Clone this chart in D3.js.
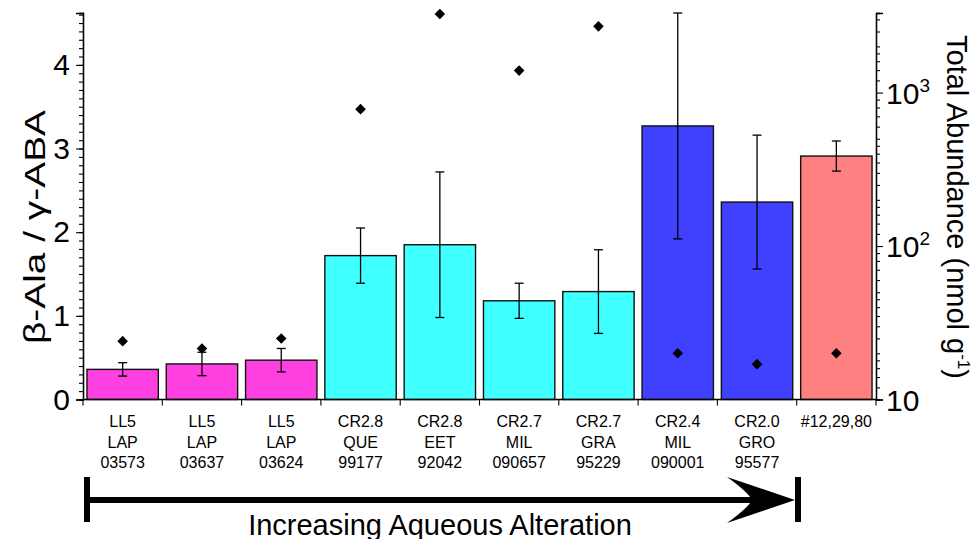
<!DOCTYPE html>
<html>
<head>
<meta charset="utf-8">
<script src="https://cdn.jsdelivr.net/npm/d3@7"></script>
<style>
  html, body { margin: 0; padding: 0; background: #fff; }
  svg { display: block; font-family: "Liberation Sans", Arial, sans-serif; }
</style>
</head>
<body>
<svg id="chart" width="972" height="539"></svg>
<script>
// Meteorite samples, each label split over three lines
const sampleClass = ["LL5", "LL5", "LL5", "CR2.8", "CR2.8", "CR2.7", "CR2.7", "CR2.4", "CR2.0", "#12,29,80"];
const sampleSite  = ["LAP", "LAP", "LAP", "QUE", "EET", "MIL", "GRA", "MIL", "GRO", ""];
const sampleId    = ["03573", "03637", "03624", "99177", "92042", "090657", "95229", "090001", "95577", ""];
const groups      = ["LL", "LL", "LL", "CR28", "CR28", "CR27", "CR27", "CR", "CR", "ref"];

// beta-alanine / gamma-ABA ratio (bars) with uncertainty
const ratio    = [0.36, 0.425, 0.47, 1.72, 1.85, 1.18, 1.29, 3.27, 2.36, 2.91];
const ratioErr = [0.08, 0.14, 0.14, 0.33, 0.87, 0.21, 0.50, 1.35, 0.80, 0.18];

// Total amino acid abundance, nmol/g (diamonds, log axis)
const abundance = [24, 21.5, 25, 780, 3250, 1390, 2700, 20, 17, 20];

const leftTicks = [0, 1, 2, 3, 4];
const rightTicks = [10, 100, 1000];

const colorOf = {LL: "#ff40e0", CR28: "#40ffff", CR27: "#40ffff", CR: "#4040ff", ref: "#ff8080"};

const svg = d3.select("#chart");
const X0 = 83, X1 = 876, Y0 = 399.5, Y1 = 13;

const keys = d3.range(sampleClass.length);
const x = d3.scaleBand().domain(keys).range([X0, X1]).paddingInner(0.1).paddingOuter(0.05);
const yL = d3.scaleLinear().domain([0, 4.62]).range([Y0, Y1]);
const yR = d3.scaleLog().domain([10, 3300]).range([Y0, Y1]);

// Bars
svg.append("g").selectAll("rect").data(keys).join("rect")
  .attr("x", i => x(i))
  .attr("y", i => yL(ratio[i]))
  .attr("width", x.bandwidth())
  .attr("height", i => Y0 - yL(ratio[i]))
  .attr("fill", i => colorOf[groups[i]])
  .attr("stroke", "#111")
  .attr("stroke-width", 1.4);

// Error bars
const eb = svg.append("g").attr("stroke", "#000").attr("stroke-width", 1.3).attr("fill", "none");
keys.forEach(i => {
  const cx = x(i) + x.bandwidth() / 2;
  const lo = yL(ratio[i] - ratioErr[i]), hi = yL(ratio[i] + ratioErr[i]);
  eb.append("line").attr("x1", cx).attr("x2", cx).attr("y1", lo).attr("y2", hi);
  eb.append("line").attr("x1", cx - 4.5).attr("x2", cx + 4.5).attr("y1", lo).attr("y2", lo);
  eb.append("line").attr("x1", cx - 4.5).attr("x2", cx + 4.5).attr("y1", hi).attr("y2", hi);
});

// Abundance diamonds
svg.append("g").selectAll("path").data(keys).join("path")
  .attr("d", d3.symbol(d3.symbolSquare, 56))
  .attr("transform", i => `translate(${x(i) + x.bandwidth() / 2},${yR(abundance[i])}) rotate(45)`)
  .attr("fill", "#000");

// Left axis
const axL = svg.append("g").attr("transform", `translate(${X0},0)`);
axL.call(d3.axisLeft(yL).tickValues(d3.range(0, 4.61, 0.1)).tickSize(4).tickFormat(""));
axL.call(g => g.append("g").call(d3.axisLeft(yL).tickValues(leftTicks).tickSize(7).tickPadding(6).tickFormat(d3.format("d"))));
axL.selectAll("path.domain").attr("stroke", "#000").attr("stroke-width", 1.3);
axL.selectAll("line").attr("stroke", "#000").attr("stroke-width", 1.1);
axL.selectAll("text").attr("font-size", 30).attr("fill", "#000").attr("font-family", "Liberation Sans, Arial, sans-serif");

// Right axis (log)
const minorR = [];
[10, 100, 1000].forEach(d => [1.2, 1.4, 1.6, 1.8, 2, 2.5, 3, 3.5, 4, 4.5, 5, 6, 7, 8, 9].forEach(m => {
  if (m * d <= 3300) minorR.push(m * d);
}));
const axR = svg.append("g").attr("transform", `translate(${X1},0)`);
axR.call(d3.axisRight(yR).tickValues(minorR).tickSize(4).tickFormat(""));
axR.call(g => g.append("g").call(d3.axisRight(yR).tickValues(rightTicks).tickSize(7).tickFormat("")));
axR.selectAll("path.domain").attr("stroke", "#000").attr("stroke-width", 1.3);
axR.selectAll("line").attr("stroke", "#000").attr("stroke-width", 1.1);
const supDigit = {2: "2", 3: "3"};
rightTicks.forEach(v => {
  const e = Math.round(Math.log10(v));
  const t = svg.append("text").attr("x", X1 + 10).attr("y", yR(v) + 11)
    .attr("font-size", 30).attr("fill", "#000");
  t.append("tspan").text("10");
  if (e > 1) t.append("tspan").attr("dy", -12).attr("font-size", 19).text(supDigit[e]);
});

// X axis with ticks at category boundaries
svg.append("line").attr("x1", X0).attr("x2", X1).attr("y1", Y0).attr("y2", Y0)
  .attr("stroke", "#000").attr("stroke-width", 1.3);
const step = x.step();
const bounds = d3.range(keys.length + 1).map(k => x(0) - x.paddingInner() * step / 2 + k * step);
svg.append("g").selectAll("line").data(bounds).join("line")
  .attr("x1", d => d).attr("x2", d => d).attr("y1", Y0).attr("y2", Y0 + 6)
  .attr("stroke", "#000").attr("stroke-width", 1.1);

// Category labels
const lab = svg.append("g").attr("font-size", 16).attr("fill", "#000").attr("text-anchor", "middle");
keys.forEach(i => {
  const cx = x(i) + x.bandwidth() / 2;
  [sampleClass[i], sampleSite[i], sampleId[i]].forEach((s, k) => {
    if (s) lab.append("text").attr("x", cx).attr("y", 427 + k * 20.5).text(s);
  });
});

// Axis titles
svg.append("text").attr("transform", "translate(45,227) rotate(-90)")
  .attr("text-anchor", "middle").attr("font-size", 29).attr("fill", "#000")
  .attr("textLength", 234).attr("lengthAdjust", "spacingAndGlyphs")
  .text("β-Ala / γ-ABA");
const rt = svg.append("text").attr("transform", "translate(947,207) rotate(90)")
  .attr("text-anchor", "middle").attr("font-size", 29).attr("fill", "#000");
rt.append("tspan").text("Total Abundance (nmol g");
rt.append("tspan").attr("dy", -11).attr("font-size", 17).text("-1");
rt.append("tspan").attr("dy", 11).text(")");

// Alteration arrow
const arrow = svg.append("g").attr("fill", "#000");
arrow.append("rect").attr("x", 84).attr("y", 477).attr("width", 6).attr("height", 45);
arrow.append("rect").attr("x", 795).attr("y", 477).attr("width", 6).attr("height", 45);
arrow.append("rect").attr("x", 87).attr("y", 497).attr("width", 670).attr("height", 6);
arrow.append("path").attr("d", "M795,500 L727,477 Q748,492 752,500 Q748,508 727,523 Z");
svg.append("text").attr("x", 440).attr("y", 535).attr("text-anchor", "middle")
  .attr("font-size", 29).attr("fill", "#000").text("Increasing Aqueous Alteration");
</script>
</body>
</html>
